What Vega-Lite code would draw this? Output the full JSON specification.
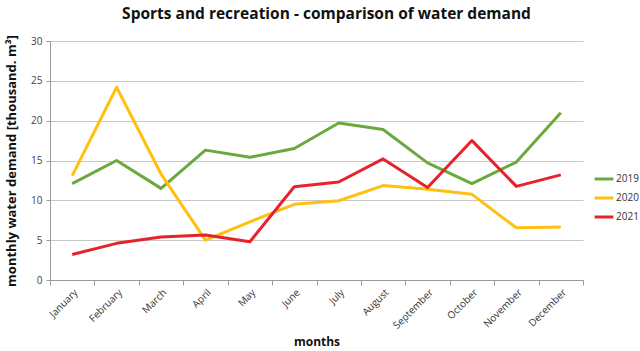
{
  "$schema": "https://vega.github.io/schema/vega-lite/v6.json",
  "autosize": "none",
  "width": 533,
  "height": 239,
  "padding": {"left": 50, "top": 41, "right": 57, "bottom": 71},
  "background": "white",
  "title": {
    "text": "Sports and recreation - comparison of water demand",
    "font": "Open Sans",
    "fontSize": 15.5,
    "fontWeight": "bold",
    "color": "#111",
    "anchor": "middle",
    "dx": 10,
    "offset": 12
  },
  "data": {
    "values": [
      {"month": "January", "year": "2019", "value": 12.1},
      {"month": "February", "year": "2019", "value": 15.0},
      {"month": "March", "year": "2019", "value": 11.5},
      {"month": "April", "year": "2019", "value": 16.3},
      {"month": "May", "year": "2019", "value": 15.4},
      {"month": "June", "year": "2019", "value": 16.5},
      {"month": "July", "year": "2019", "value": 19.7},
      {"month": "August", "year": "2019", "value": 18.9},
      {"month": "September", "year": "2019", "value": 14.7},
      {"month": "October", "year": "2019", "value": 12.1},
      {"month": "November", "year": "2019", "value": 14.8},
      {"month": "December", "year": "2019", "value": 21.0},
      {"month": "January", "year": "2020", "value": 13.1},
      {"month": "February", "year": "2020", "value": 24.2},
      {"month": "March", "year": "2020", "value": 13.3},
      {"month": "April", "year": "2020", "value": 5.0},
      {"month": "May", "year": "2020", "value": 7.3},
      {"month": "June", "year": "2020", "value": 9.5},
      {"month": "July", "year": "2020", "value": 9.95},
      {"month": "August", "year": "2020", "value": 11.85},
      {"month": "September", "year": "2020", "value": 11.4},
      {"month": "October", "year": "2020", "value": 10.75},
      {"month": "November", "year": "2020", "value": 6.55},
      {"month": "December", "year": "2020", "value": 6.65},
      {"month": "January", "year": "2021", "value": 3.2},
      {"month": "February", "year": "2021", "value": 4.6},
      {"month": "March", "year": "2021", "value": 5.4},
      {"month": "April", "year": "2021", "value": 5.65},
      {"month": "May", "year": "2021", "value": 4.8},
      {"month": "June", "year": "2021", "value": 11.7},
      {"month": "July", "year": "2021", "value": 12.3},
      {"month": "August", "year": "2021", "value": 15.2},
      {"month": "September", "year": "2021", "value": 11.6},
      {"month": "October", "year": "2021", "value": 17.5},
      {"month": "November", "year": "2021", "value": 11.75},
      {"month": "December", "year": "2021", "value": 13.2}
    ]
  },
  "mark": {"type": "line", "strokeWidth": 3, "interpolate": "linear", "strokeJoin": "round"},
  "encoding": {
    "x": {
      "field": "month",
      "type": "ordinal",
      "sort": ["January","February","March","April","May","June","July","August","September","October","November","December"],
      "scale": {"type": "band", "paddingInner": 0, "paddingOuter": 0},
      "axis": {
        "title": "months",
        "titleFont": "Open Sans",
        "titleFontSize": 12,
        "titleFontWeight": "bold",
        "titleColor": "#111",
        "titlePadding": 6,
        "labelAngle": -45,
        "labelFont": "Open Sans",
        "labelFontSize": 10,
        "labelColor": "#333",
        "labelPadding": 2,
        "domainColor": "#999",
        "tickColor": "#999",
        "tickBand": "extent",
        "tickSize": 5,
        "grid": false
      }
    },
    "y": {
      "field": "value",
      "type": "quantitative",
      "scale": {"domain": [0, 30], "nice": false},
      "axis": {
        "values": [0, 5, 10, 15, 20, 25, 30],
        "title": "monthly water demand [thousand. m³]",
        "titleFont": "Open Sans",
        "titleFontSize": 13,
        "titleFontWeight": "bold",
        "titleColor": "#111",
        "titlePadding": 12,
        "labelFont": "Open Sans",
        "labelFontSize": 10,
        "labelColor": "#444",
        "labelPadding": 4,
        "domainColor": "#999",
        "tickColor": "#999",
        "tickSize": 4,
        "gridColor": "#c8c8c8",
        "gridWidth": 1
      }
    },
    "color": {
      "field": "year",
      "type": "nominal",
      "scale": {"domain": ["2019", "2020", "2021"], "range": ["#6aa93c", "#ffc010", "#e8222a"]},
      "legend": {
        "title": null,
        "orient": "none",
        "legendX": 543,
        "legendY": 127,
        "symbolType": "stroke",
        "symbolStrokeWidth": 3,
        "symbolSize": 350,
        "labelFont": "Open Sans",
        "labelFontSize": 10,
        "labelColor": "#333",
        "rowPadding": 2,
        "labelOffset": 1
      }
    }
  },
  "config": {"view": {"stroke": null}}
}
